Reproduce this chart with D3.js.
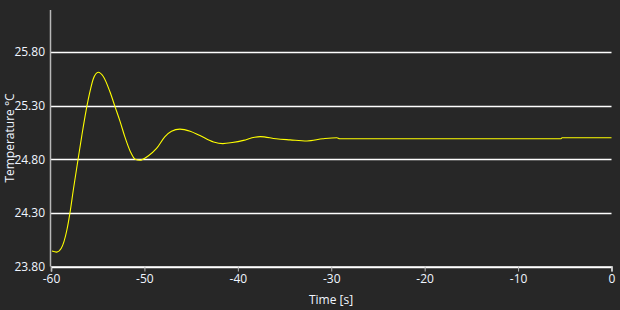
<!DOCTYPE html>
<html><head><meta charset="utf-8">
<script src="https://cdn.jsdelivr.net/npm/d3@7"></script>
<style>
html,body{margin:0;padding:0;background:#272727;}
svg{display:block;}
</style></head>
<body><svg id="c" width="620" height="310"></svg>
<script>
const times = [-59.9,-59.4,-58.9,-58.3,-57.97,-57.6,-57.1,-56.7,-56.25,-55.8,-55.47,-54.94,-54.4,-53.7,-53.15,-52.6,-52.1,-51.5,-51.0,-50.5,-49.6,-48.7,-47.8,-47.1,-46.2,-45.1,-44.06,-42.6,-41.6,-40.6,-39.4,-38.2,-37.6,-35.9,-34.4,-32.6,-30.9,-29.4,-29.1,-20,-10,-5.4,-5.3,0];
const temps = [23.944,23.934,23.97,24.14,24.30,24.52,24.80,25.02,25.25,25.44,25.55,25.61,25.57,25.43,25.29,25.15,25.01,24.87,24.80,24.79,24.83,24.90,25.01,25.06,25.08,25.06,25.02,24.96,24.945,24.955,24.975,25.005,25.01,24.99,24.98,24.97,24.99,25.00,24.99,24.99,24.99,24.99,25.00,25.00];
const xTicks = [-60,-50,-40,-30,-20,-10,0];
const yTicks = [23.80,24.30,24.80,25.30,25.80];

const svg = d3.select("#c");
const L = 51, R = 611.5, T = 10, B = 266.5;
const x = d3.scaleLinear().domain([-60,0]).range([L,R]);
const y = d3.scaleLinear().domain([23.8,26.19]).range([B,T]);
const font = "'Open Sans', 'Noto Sans', sans-serif";
const txt = "#f0f6ff";

// gridlines
svg.append("g").selectAll("line").data(yTicks).join("line")
  .attr("x1", L).attr("x2", R)
  .attr("y1", d => Math.round(y(d))+0.5).attr("y2", d => Math.round(y(d))+0.5)
  .attr("stroke", "#ffffff").attr("stroke-width", 1.5);

// left axis line
svg.append("line").attr("x1", L-0.5).attr("x2", L-0.5).attr("y1", T).attr("y2", B)
  .attr("stroke", "#b8b8b8").attr("stroke-width", 1.5);

// y labels
const ya = d3.axisLeft(y).tickValues(yTicks).tickFormat(d3.format(".2f")).tickSize(0).tickPadding(6);
const gy = svg.append("g").attr("transform", `translate(${L},0)`).call(ya);
gy.select(".domain").remove();
gy.selectAll("text").attr("fill", txt).style("font-family", font).style("font-size", "12px");

// x axis
const xa = d3.axisBottom(x).tickValues(xTicks).tickFormat(d3.format("d")).tickSize(5).tickPadding(3);
const gx = svg.append("g").attr("transform", `translate(0,${B})`).call(xa);
gx.select(".domain").attr("stroke", "#ffffff").attr("stroke-width", 1.5);
gx.selectAll(".tick line").attr("stroke", "#b8b8b8");
gx.selectAll("text").attr("fill", txt).style("font-family", font).style("font-size", "12px")
  .text(d => d < 0 ? "-" + Math.abs(d) : d);

// titles
svg.append("text").attr("x", 331).attr("y", 304).attr("text-anchor", "middle")
  .attr("fill", txt).style("font-family", font).style("font-size", "12px").text("Time [s]");
svg.append("text").attr("transform", "translate(14,138) rotate(-90)").attr("text-anchor", "middle")
  .attr("fill", txt).style("font-family", font).style("font-size", "12px").text("Temperature °C");

// line
const pts = times.map((t,i) => [t, temps[i]]);
svg.append("path").datum(pts)
  .attr("fill", "none").attr("stroke", "#ffff00").attr("stroke-width", 1.1)
  .attr("d", d3.line().x(d => x(d[0])).y(d => y(d[1])).curve(d3.curveMonotoneX));
</script></body></html>
